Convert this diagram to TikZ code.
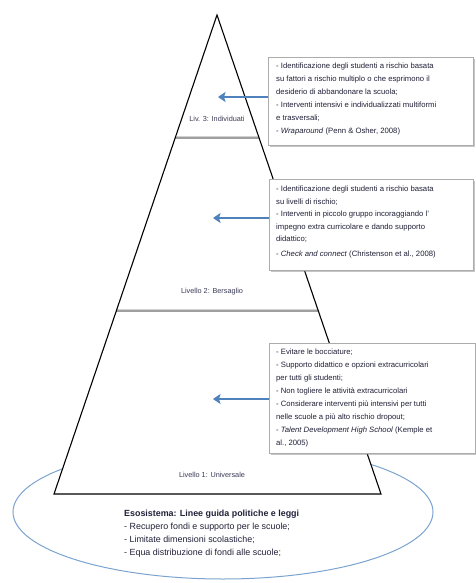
\documentclass[tikz,border=0pt]{standalone}
\usepackage{fontspec}
\setmainfont{Liberation Sans}
\usetikzlibrary{arrows.meta,shadows,shapes.geometric}
\definecolor{arrblue}{HTML}{4F81BD}
\definecolor{ellblue}{HTML}{7BA3D0}
\definecolor{txt}{HTML}{202038}
\definecolor{lbl}{HTML}{3A3A58}
\begin{document}
\begin{tikzpicture}[x=1pt,y=-1pt,
  arr/.style={draw=arrblue,line width=2.2pt,-{Stealth[length=7.5pt,width=10pt,inset=1.5pt]}},
  infobox/.style={draw=gray!65,line width=0.8pt,fill=white,anchor=north west,inner sep=0pt,
    drop shadow={shadow xshift=1.2pt,shadow yshift=-1.5pt,opacity=0.45,fill=gray}},
  infotext/.style={anchor=north west,inner sep=0pt,align=left,text=txt,
    font=\fontsize{7.7}{13}\selectfont},
  lvl/.style={text=lbl,font=\fontsize{7.3}{8}\selectfont,inner sep=0pt},
  divider/.style={draw=gray!75,line width=1.2pt},
  dividershadow/.style={draw=gray!35,line width=1pt}]
\useasboundingbox (0,0) rectangle (476,583);
% ellipse (exosystem)
\node[draw=ellblue,line width=1pt,ellipse,minimum width=420pt,minimum height=134pt,inner sep=0pt] (eco) at (223,512) {};
% pyramid
\coordinate (apex) at (217,15);
\coordinate (bl) at (54,494);
\coordinate (br) at (381,494);
\coordinate (d1l) at (175,138);
\coordinate (d1r) at (259,138);
\coordinate (d2l) at (116,311);
\coordinate (d2r) at (318,311);
\fill[white] (apex) -- (br) -- (bl) -- cycle;
\draw[dividershadow] ([yshift=1.1pt]d1l) -- ([yshift=1.1pt]d1r);
\draw[dividershadow] ([yshift=1.1pt]d2l) -- ([yshift=1.1pt]d2r);
\draw[divider] (d1l) -- (d1r);
\draw[divider] (d2l) -- (d2r);
\draw[black,line width=1.1pt,line join=miter] (apex) -- (br) -- (bl) -- cycle;
% level labels
\node[lvl] (l3) at (217,119) {Liv. 3: Individuati};
\node[lvl] (l2) at (212,292) {Livello 2: Bersaglio};
\node[lvl] (l1) at (212,475) {Livello 1: Universale};
% boxes
\node[infobox,minimum width=205pt,minimum height=88pt] (b1) at (268,57) {};
\node[infobox,minimum width=204pt,minimum height=91pt] (b2) at (269,179) {};
\node[infobox,minimum width=206pt,minimum height=110pt] (b3) at (269,343) {};
\node[infotext] (t1txt) at (276,63) {- Identificazione degli studenti a rischio basata\\
su fattori a rischio multiplo o che esprimono il\\
desiderio di abbandonare la scuola;\\
- Interventi intensivi e individualizzati multiformi\\
e trasversali;\\
- \textit{Wraparound} (Penn \& Osher, 2008)};
\node[infotext,font=\fontsize{7.7}{12.5}\selectfont] (t2txt) at (276,186) {- Identificazione degli studenti a rischio basata\\
su livelli di rischio;\\
- Interventi in piccolo gruppo incoraggiando l’\\
impegno extra curricolare e dando supporto\\
didattico;\\[2pt]
- \textit{Check and connect} (Christenson et al., 2008)};
\node[infotext,font=\fontsize{7.7}{12.9}\selectfont] (t3txt) at (276,349) {- Evitare le bocciature;\\
- Supporto didattico e opzioni extracurricolari\\
per tutti gli studenti;\\
- Non togliere le attività extracurricolari\\
- Considerare interventi più intensivi per tutti\\
nelle scuole a più alto rischio dropout;\\
- \textit{Talent Development High School} (Kemple et\\
al., 2005)};
% arrows
\coordinate (a1) at (218,97);
\coordinate (a2) at (213,218);
\coordinate (a3) at (213,399);
\draw[arr] (a1 -| b1.west) -- (a1);
\draw[arr] (a2 -| b2.west) -- (a2);
\draw[arr] (a3 -| b3.west) -- (a3);
% exosystem text
\node[infotext,font=\fontsize{8.9}{13}\selectfont] (eso) at (124,510) {\textbf{Esosistema: Linee guida politiche e leggi}\\
- Recupero fondi e supporto per le scuole;\\
- Limitate dimensioni scolastiche;\\
- Equa distribuzione di fondi alle scuole;};
\end{tikzpicture}
\end{document}
